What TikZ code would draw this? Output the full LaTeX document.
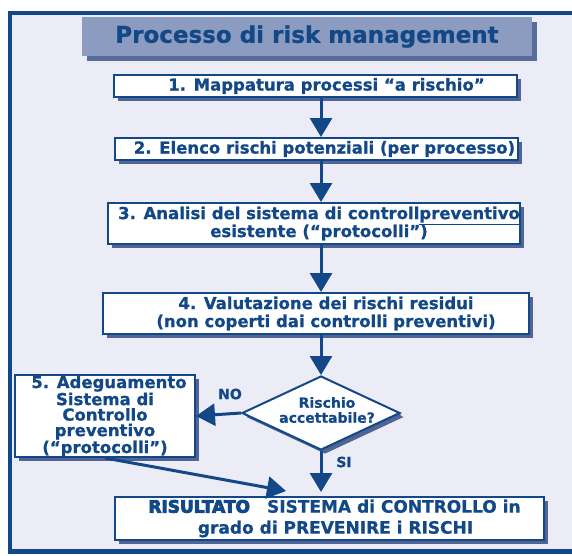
\documentclass[tikz,border=0pt]{standalone}
\usepackage{fontspec}
\setmainfont[BoldFeatures={FakeBold=0.8}]{DejaVu Sans}
\newfontfamily\heavyfont[UprightFeatures={FakeBold=5}, BoldFeatures={FakeBold=5}]{DejaVu Sans}
\usetikzlibrary{arrows.meta,shapes.geometric,shadows}

\definecolor{riskblue}{RGB}{18,72,135}
\definecolor{panel}{RGB}{236,236,246}
\definecolor{titlefill}{RGB}{140,155,192}
\definecolor{titleshade}{RGB}{88,108,155}
\definecolor{boxshade}{RGB}{80,100,150}

\begin{document}
\begin{tikzpicture}[x=1pt,y=-1pt,
    stepbox/.style={draw=riskblue, line width=2pt, fill=white, inner sep=0pt,
        text=riskblue, align=center, font=\bfseries\fontsize{16.5}{18}\selectfont,
        drop shadow={shadow xshift=4pt, shadow yshift=-4pt, fill=boxshade, opacity=1}},
    titlebox/.style={fill=titlefill, inner sep=0pt, text=riskblue,
        font=\bfseries\fontsize{23}{26}\selectfont,
        drop shadow={shadow xshift=5pt, shadow yshift=-5pt, fill=titleshade, opacity=1}},
    flow/.style={draw=riskblue, line width=3pt, -{Triangle[width=22pt,length=19pt]}},
    answer/.style={text=riskblue, font=\bfseries\fontsize{14}{16}\selectfont}]

        % Page and panel
        \clip (0,0) rectangle (572,555);
        \fill[white] (0,0) rectangle (572,555);
        \draw[riskblue, fill=panel, line width=4pt] (10,13) rectangle (600,551);
        \draw[riskblue, line width=5pt] (8,551.5) -- (600,551.5);

        % Title
        \node[titlebox, minimum width=450pt, minimum height=39pt] (title) at (307,36.5) {Processo di risk management};

        % Steps of the process
        \node[stepbox, minimum width=403pt, minimum height=22pt] (map) at (315.5,86) {\hspace*{22pt}1. Mappatura processi “a rischio”};
        \node[stepbox, minimum width=403pt, minimum height=22pt] (list) at (316.5,149) {\hspace*{16pt}2. Elenco rischi potenziali (per processo)};
        \node[stepbox, minimum width=412pt, minimum height=41pt] (check) at (314,223.5) {\hspace*{10pt}3. Analisi del sistema di controll\underline{preventivo}\\\hspace*{10pt}esistente (“protocolli”)};
        \node[stepbox, minimum width=426pt, minimum height=41pt] (eval) at (316,313.5) {\hspace*{20pt}4. Valutazione dei rischi residui\\\hspace*{20pt}(non coperti dai controlli preventivi)};

        % Decision
        \node[stepbox, diamond, minimum width=158pt, minimum height=74pt,
            drop shadow={shadow xshift=2pt, shadow yshift=-2pt, fill=boxshade, opacity=1}] (ok) at (321,413) {};
        \node[answer, align=center, font=\bfseries\fontsize{14}{15}\selectfont] (oktext) at (327,410) {Rischio\\accettabile?};

        % Corrective step and result
        \node[stepbox, minimum width=180pt, minimum height=82pt, font=\bfseries\fontsize{16.5}{15.5}\selectfont] (adapt) at (105,416) {\hspace*{8pt}5. Adeguamento\\Sistema di\\Controllo\\preventivo\\(“protocolli”)};
        \node[stepbox, minimum width=429pt, minimum height=43pt, font=\bfseries\fontsize{17}{21}\selectfont] (result) at (329.5,518.5) {\hspace*{10pt}{\heavyfont\bfseries RISULTATO}\quad SISTEMA di CONTROLLO in\\\hspace*{12pt}grado di PREVENIRE i RISCHI};

        % Connectors
        \draw[flow] (map.south -| ok.north) -- (list.north -| ok.north);
        \draw[flow] (list.south -| ok.north) -- (check.north -| ok.north);
        \draw[flow] (check.south -| ok.north) -- (eval.north -| ok.north);
        \draw[flow] (eval.south -| ok.north) -- (ok.north);
        \draw[flow] (ok.west) -- (adapt.east);
        \draw[flow, shorten >=4pt] (ok.south) -- (result.north -| ok.south);
        \coordinate (join) at (286,491);
        \draw[flow] (adapt.south) -- (join);

        % Answers
        \node[answer] (no) at (230,394) {NO};
        \node[answer] (yes) at (344,462) {SI};

\end{tikzpicture}
\end{document}
